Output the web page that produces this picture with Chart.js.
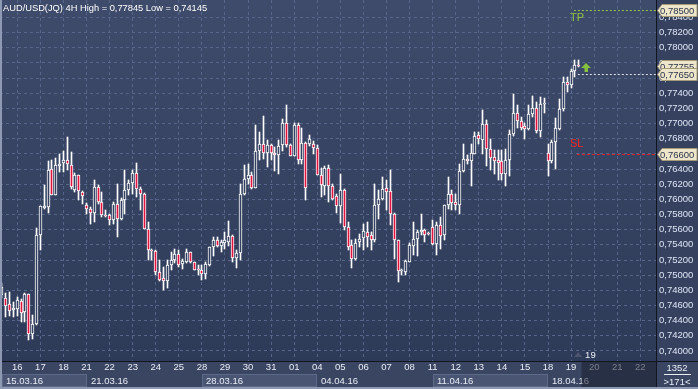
<!DOCTYPE html>
<html><head><meta charset="utf-8">
<script src="https://cdn.jsdelivr.net/npm/chart.js@4.4.0/dist/chart.umd.min.js"></script>
<style>html,body{margin:0;padding:0;background:#36425f;overflow:hidden}canvas{display:block}</style>
</head><body>
<canvas id="c" width="698" height="389"></canvas>
<script>
// ---- data (AUD/USD 4H) ----
const open = [
0.74733,0.74703,0.74623,0.74535,0.74557,0.74654,0.74512,0.74746,0.74227,0.74350,
0.75526,0.75892,0.75899,0.76407,0.76063,0.76441,0.76486,0.76516,0.76460,0.76120,
0.76318,0.76098,0.75931,0.75869,0.75826,0.76164,0.75966,0.75790,0.75790,0.75724,
0.75944,0.75746,0.75988,0.76120,0.76217,0.76349,0.76143,0.76067,0.75614,0.75327,
0.75318,0.75041,0.74962,0.74918,0.75129,0.75205,0.75284,0.75152,0.75173,0.75305,
0.75173,0.75073,0.75073,0.75020,0.75139,0.75371,0.75460,0.75384,0.75429,0.75437,
0.75516,0.75231,0.75292,0.76077,0.76275,0.76318,0.76156,0.76635,0.76728,0.76613,
0.76715,0.76613,0.76582,0.76715,0.77014,0.76715,0.76573,0.76979,0.76526,0.76750,
0.76724,0.76724,0.76684,0.76327,0.76177,0.76420,0.76177,0.76041,0.75918,0.76129,
0.75635,0.75394,0.75218,0.75437,0.75490,0.75569,0.75526,0.75469,0.75931,0.76001,
0.76156,0.76107,0.75812,0.75460,0.75054,0.75041,0.75173,0.75384,0.75482,0.75569,
0.75601,0.75548,0.75635,0.75407,0.75658,0.75526,0.75922,0.76077,0.75966,0.75931,
0.76375,0.76539,0.76507,0.76605,0.76847,0.76781,0.76992,0.76671,0.76560,0.76526,
0.76510,0.76331,0.76526,0.76856,0.77133,0.77036,0.76966,0.76922,0.77124,0.77199,
0.76903,0.77256,0.76613,0.76507,0.76754,0.76926,0.77186,0.77551,0.77507,0.77696,
0.77771];
const high = [
0.74896,0.74759,0.74777,0.74645,0.74711,0.74680,0.74763,0.74756,0.74469,0.75627,
0.75918,0.76186,0.76507,0.76516,0.76543,0.76592,0.76635,0.76824,0.76626,0.76345,
0.76327,0.76105,0.75958,0.75899,0.76252,0.76195,0.76098,0.75856,0.75803,0.75962,
0.76209,0.76014,0.76384,0.76261,0.76384,0.76486,0.76164,0.76080,0.75701,0.75350,
0.75337,0.75205,0.75107,0.75195,0.75305,0.75350,0.75337,0.75218,0.75350,0.75310,
0.75178,0.75129,0.75129,0.75173,0.75371,0.75503,0.75503,0.75469,0.75569,0.75715,
0.75526,0.75327,0.76209,0.76450,0.76473,0.76362,0.76979,0.76890,0.77098,0.76781,
0.76724,0.76692,0.76781,0.77054,0.77243,0.76737,0.77005,0.77009,0.76935,0.76758,
0.76847,0.76767,0.76715,0.76420,0.76437,0.76450,0.76209,0.76077,0.76331,0.76143,
0.75701,0.75460,0.75482,0.75548,0.75680,0.75701,0.75569,0.76209,0.76120,0.76296,
0.76252,0.76384,0.75820,0.75465,0.75086,0.75195,0.75424,0.75701,0.75601,0.75803,
0.75606,0.75565,0.75724,0.75701,0.75767,0.75928,0.76296,0.76120,0.76077,0.76473,
0.76737,0.76582,0.76737,0.76890,0.76890,0.77177,0.77045,0.76790,0.76648,0.76648,
0.76648,0.76671,0.76913,0.77388,0.77243,0.77088,0.77001,0.77243,0.77362,0.77287,
0.77345,0.77331,0.76737,0.76781,0.77067,0.77318,0.77617,0.77617,0.77715,0.77845,
0.77840];
const low = [
0.74697,0.74446,0.74456,0.74446,0.74456,0.74380,0.74380,0.74145,0.74161,0.74340,
0.75327,0.75878,0.75820,0.76054,0.76054,0.76362,0.76362,0.76384,0.76143,0.76098,
0.75988,0.75944,0.75812,0.75680,0.75701,0.75944,0.75767,0.75767,0.75667,0.75680,
0.75503,0.75724,0.75812,0.76054,0.76077,0.76032,0.75865,0.75605,0.75205,0.75205,
0.74997,0.74925,0.74799,0.74835,0.75063,0.75160,0.75107,0.75086,0.75160,0.75160,
0.75063,0.74997,0.74931,0.74954,0.75120,0.75252,0.75371,0.75305,0.75350,0.75380,
0.75173,0.75094,0.75195,0.76054,0.76209,0.76143,0.76150,0.76516,0.76539,0.76428,
0.76516,0.76375,0.76341,0.76639,0.76692,0.76569,0.76569,0.76464,0.76473,0.75997,
0.76710,0.76596,0.76320,0.76032,0.76054,0.75966,0.75988,0.75820,0.75688,0.75592,
0.75327,0.75099,0.75195,0.75371,0.75327,0.75371,0.75337,0.75437,0.75746,0.75988,
0.75856,0.75658,0.75218,0.74909,0.75006,0.74997,0.75168,0.75261,0.75248,0.75526,
0.75437,0.75531,0.75394,0.75261,0.75350,0.75460,0.75878,0.75856,0.75856,0.75812,
0.76362,0.76473,0.76173,0.76596,0.76737,0.76605,0.76437,0.76384,0.76341,0.76252,
0.76252,0.76173,0.76305,0.76833,0.76935,0.76913,0.76803,0.76913,0.77088,0.76869,
0.76824,0.77133,0.76305,0.76481,0.76407,0.76913,0.77168,0.77419,0.77464,0.77617,
0.77749];
const close = [
0.74839,0.74597,0.74526,0.74565,0.74667,0.74499,0.74746,0.74227,0.74350,0.75535,
0.75918,0.75918,0.76394,0.76063,0.76450,0.76473,0.76516,0.76473,0.76164,0.76318,
0.76107,0.76045,0.75869,0.75826,0.76164,0.75966,0.75790,0.75786,0.75724,0.75944,
0.75746,0.75988,0.76120,0.76217,0.76349,0.76143,0.76067,0.75614,0.75327,0.75318,
0.75041,0.74931,0.74918,0.75129,0.75205,0.75284,0.75139,0.75182,0.75305,0.75173,
0.75073,0.75067,0.75010,0.75143,0.75371,0.75469,0.75384,0.75437,0.75460,0.75512,
0.75231,0.75297,0.76077,0.76275,0.76318,0.76156,0.76635,0.76728,0.76613,0.76715,
0.76613,0.76582,0.76705,0.77014,0.76715,0.76573,0.76979,0.76526,0.76745,0.76156,
0.76803,0.76679,0.76327,0.76195,0.76420,0.76177,0.76010,0.75913,0.76129,0.75635,
0.75371,0.75218,0.75429,0.75482,0.75578,0.75503,0.75469,0.75931,0.76001,0.76143,
0.76103,0.75812,0.75460,0.75054,0.75058,0.75182,0.75394,0.75482,0.75569,0.75601,
0.75535,0.75544,0.75407,0.75658,0.75516,0.75922,0.76077,0.75952,0.75931,0.76375,
0.76539,0.76507,0.76613,0.76833,0.76790,0.76992,0.76671,0.76552,0.76507,0.76481,
0.76331,0.76526,0.76856,0.77133,0.77032,0.76948,0.76922,0.77124,0.77199,0.76903,
0.77256,0.77260,0.76507,0.76758,0.76935,0.77186,0.77551,0.77507,0.77696,0.77771,
0.77755];

// x-axis: bar index of the first 4H bar of each day, and its label
const dayStart  = [4,10,16,22,28,34,40,46,52,58,64,70,76,82,88,94,100,106,112,118,124,130,136,142,148,154,160,166];
const dayLabels = ['16','17','18','21','22','23','24','25','28','29','30','31','01','04','05','06','07','08','11','12','13','14','15','18','19','20','21','22'];
const weekStart  = [0,22,52,82,112,142];
const weekLabels = ['15.03.16','21.03.16','28.03.16','04.04.16','11.04.16','18.04.16'];
const yTicks = [0.740,0.742,0.744,0.746,0.748,0.750,0.752,0.754,0.756,0.758,0.760,0.762,0.764,0.766,0.768,0.770,0.772,0.774,0.776,0.778,0.780,0.782,0.784];
const tpLevel = 0.78500, slLevel = 0.76600, entryLevel = 0.77650, lastPrice = 0.77755;
const barsVisible = 171, barsTotal = 1352;
const titleText = 'AUD/USD(JQ) 4H High = 0,77845 Low = 0,74145';

const FONT = '"Liberation Sans", Arial, sans-serif';
const fmt = v => v.toFixed(5).replace('.', ',');
const idx = open.map((_, i) => i);
const bullFill = '#33405f', bearFill = '#e0153f';

const bgPlugin = {
  id: 'bg',
  beforeDraw(c) {
    const {ctx, chartArea: a} = c;
    ctx.save();
    ctx.fillStyle = '#36425f'; ctx.fillRect(0, 0, c.width, c.height);
    const g = ctx.createLinearGradient(0, a.top, 0, a.bottom);
    g.addColorStop(0, '#3f4b6a'); g.addColorStop(1, '#2d3a58');
    ctx.fillStyle = g; ctx.fillRect(a.left, a.top, a.right - a.left, a.bottom - a.top);
    ctx.fillStyle = '#35415f'; ctx.fillRect(a.right, 0, c.width - a.right, a.bottom);
    ctx.fillStyle = '#3a4562'; ctx.fillRect(0, a.bottom, c.width, c.height - a.bottom);
    ctx.restore();
  }
};

// pixel-snapping of the candle elements (rendering crispness only)
const snapPlugin = {
  id: 'snap',
  beforeDatasetsDraw(c) {
    c.data.datasets.forEach((ds, di) => {
      const meta = c.getDatasetMeta(di);
      meta.data.forEach(el => {
        el.x = Math.floor(el.x) + 0.5;
        let y = Math.round(el.y), b = Math.round(el.base);
        if (Math.abs(y - b) < 1) b = y + 1;
        el.y = y; el.base = b;
      });
    });
  }
};

const overlayPlugin = {
  id: 'overlay',
  afterDraw(c) {
    const {ctx, chartArea: a} = c;
    const xs = c.scales.x, ys = c.scales.y;
    ctx.save();
    // week boxes (second row of the time axis)
    ctx.font = '9.5px ' + FONT; ctx.textBaseline = 'middle'; ctx.textAlign = 'left';
    for (let k = 0; k < weekStart.length; k++) {
      const x0 = Math.max(2, Math.round(xs.getPixelForValue(weekStart[k])));
      const x1 = k + 1 < weekStart.length ? Math.round(xs.getPixelForValue(weekStart[k + 1])) : a.right;
      if (k % 2 === 0) {
        ctx.fillStyle = '#4a5574'; ctx.fillRect(x0, 374, x1 - x0, 13);
        ctx.strokeStyle = '#5d6989'; ctx.lineWidth = 1; ctx.strokeRect(x0 + 0.5, 374.5, x1 - x0 - 1, 12);
      }
      ctx.fillStyle = '#e8edf6';
      ctx.fillText(weekLabels[k], x0 + 4, 381);
    }
    // future area shading on the time axis
    const xf = xs.getPixelForValue(open.length - 0.3);
    ctx.fillStyle = 'rgba(25,31,48,0.55)';
    ctx.fillRect(xf, a.bottom, a.right - xf, c.height - a.bottom);
    // separators
    ctx.fillStyle = '#111520';
    ctx.fillRect(0, a.bottom, c.width, 1);
    ctx.fillRect(a.right, 0, 1, c.height);
    // outer frame
    ctx.fillStyle = '#8e9ab4';
    ctx.fillRect(0, 0, 2, c.height);
    ctx.fillRect(0, c.height - 2, c.width, 2);
    // corner box
    ctx.fillStyle = '#e8edf6'; ctx.textAlign = 'center'; ctx.font = '9.5px ' + FONT;
    ctx.fillText(String(barsTotal), 677, 368);
    ctx.fillRect(664, 374, 27, 1);
    ctx.fillText('>' + barsVisible + '<', 677, 382);
    // title
    ctx.textAlign = 'left'; ctx.fillStyle = '#ffffff'; ctx.font = '9.3px ' + FONT;
    ctx.fillText(titleText, 3, 8);
    // TP / SL / entry lines
    const xl = xs.getPixelForValue(open.length - 1.5);
    const yTP = ys.getPixelForValue(tpLevel), ySL = ys.getPixelForValue(slLevel), yE = ys.getPixelForValue(entryLevel);
    ctx.lineWidth = 1;
    ctx.setLineDash([2, 2]); ctx.strokeStyle = '#8fc43e';
    ctx.beginPath(); ctx.moveTo(xl - 3, Math.round(yTP) + 0.5); ctx.lineTo(a.right, Math.round(yTP) + 0.5); ctx.stroke();
    ctx.strokeStyle = '#d8dce6';
    ctx.beginPath(); ctx.moveTo(xl + 1, Math.round(yE) + 0.5); ctx.lineTo(a.right, Math.round(yE) + 0.5); ctx.stroke();
    ctx.setLineDash([3, 2]); ctx.strokeStyle = '#e02424';
    ctx.beginPath(); ctx.moveTo(xl, Math.round(ySL) + 0.5); ctx.lineTo(a.right, Math.round(ySL) + 0.5); ctx.stroke();
    ctx.setLineDash([]);
    ctx.font = '11px ' + FONT; ctx.textBaseline = 'middle';
    ctx.fillStyle = '#8fc43e'; ctx.fillText('TP', 570, yTP + 8);
    ctx.fillStyle = '#ff2020'; ctx.fillText('SL', 570, ySL - 10);
    // green arrow
    ctx.fillStyle = '#86c240';
    ctx.beginPath();
    ctx.moveTo(586, 63); ctx.lineTo(591, 68); ctx.lineTo(588, 68); ctx.lineTo(588, 72);
    ctx.lineTo(584.5, 72); ctx.lineTo(584.5, 68); ctx.lineTo(581, 68); ctx.closePath(); ctx.fill();
    // "19" marker above the time axis
    const x19 = xs.getPixelForValue(dayStart[24]);
    ctx.fillStyle = '#4c5570';
    ctx.beginPath(); ctx.moveTo(x19 + 7, 352); ctx.lineTo(x19 + 11, 357); ctx.lineTo(x19 + 3, 357); ctx.closePath(); ctx.fill();
    ctx.fillStyle = '#e8edf6'; ctx.font = '9.5px ' + FONT;
    ctx.fillText('19', x19 + 14, 355);
    // price markers on the right axis
    const marks = [tpLevel, lastPrice, entryLevel, slLevel];
    ctx.font = '9.5px ' + FONT;
    for (const v of marks) {
      const y = Math.round(ys.getPixelForValue(v)) + 0.5;
      ctx.fillStyle = '#ede6cb'; ctx.strokeStyle = '#a39a78';
      ctx.beginPath();
      ctx.moveTo(a.right + 1.5, y); ctx.lineTo(a.right + 6, y - 6); ctx.lineTo(697, y - 6);
      ctx.lineTo(697, y + 6); ctx.lineTo(a.right + 6, y + 6); ctx.closePath();
      ctx.fill(); ctx.stroke();
      ctx.fillStyle = '#2c3448'; ctx.textAlign = 'left';
      ctx.fillText(fmt(v), a.right + 4, y + 0.5);
    }
    ctx.restore();
  }
};

Chart.defaults.font.family = FONT;
new Chart(document.getElementById('c'), {
  type: 'bar',
  data: {
    datasets: [
      {
        label: 'wick',
        data: idx.map(i => ({x: i, y: [low[i], high[i]]})),
        backgroundColor: '#ffffff', borderWidth: 0,
        barThickness: 1, grouped: false, order: 2
      },
      {
        label: 'body',
        data: idx.map(i => ({x: i, y: [Math.min(open[i], close[i]), Math.max(open[i], close[i])]})),
        backgroundColor: idx.map(i => close[i] >= open[i] ? bullFill : bearFill),
        borderColor: '#ffffff', borderWidth: 1, borderSkipped: false,
        barThickness: 3, minBarLength: 1, grouped: false, order: 1
      }
    ]
  },
  options: {
    responsive: false, animation: false, events: [],
    layout: {padding: 0},
    plugins: {legend: {display: false}, tooltip: {enabled: false}},
    scales: {
      x: {
        type: 'linear', min: -0.5, max: 170.07, offset: false, position: 'bottom',
        afterBuildTicks: s => { s.ticks = dayStart.map(v => ({value: v})); },
        afterFit: s => { s.height = 28; s.paddingLeft = 0; s.paddingRight = 0; },
        ticks: {
          autoSkip: false, maxRotation: 0, minRotation: 0, padding: 1, color: '#e8edf6',
          font: {size: 9.5},
          callback: v => dayLabels[dayStart.indexOf(v)]
        },
        grid: {color: '#56658a', lineWidth: 1, drawTicks: false, offset: false},
        border: {display: false, dash: [3, 3]}
      },
      y: {
        type: 'linear', position: 'right', min: 0.73868, max: 0.78630,
        afterBuildTicks: s => { s.ticks = yTicks.map(v => ({value: v})); },
        afterFit: s => { s.width = 42; s.paddingTop = 0; s.paddingBottom = 0; },
        ticks: {padding: 3, color: '#dde5f4', font: {size: 9.5}, callback: v => fmt(v)},
        grid: {color: '#56658a', lineWidth: 1, drawTicks: false},
        border: {display: false, dash: [3, 3]}
      }
    }
  },
  plugins: [bgPlugin, snapPlugin, overlayPlugin]
});
</script>
</body></html>
